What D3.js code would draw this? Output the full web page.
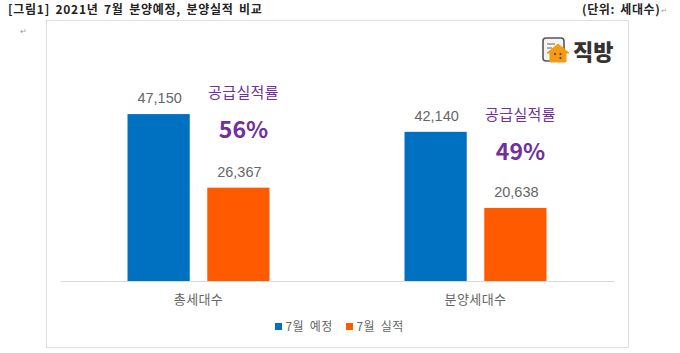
<!DOCTYPE html>
<html>
<head>
<meta charset="utf-8">
<script src="https://cdn.jsdelivr.net/npm/d3@7"></script>
<style>
html, body { margin: 0; padding: 0; background: #fff; }
svg { display: block; font-family: "Noto Sans CJK KR", "Noto Sans", sans-serif; }
</style>
</head>
<body>
<div id="chart"></div>
<script>
const categories = ["총세대수", "분양세대수"];
const seriesNames = ["7월 예정", "7월 실적"];
const planned = [47150, 42140];
const actual = [26367, 20638];
const rates = ["56%", "49%"];
const seriesColors = ["#0070c0", "#ff5a00"];

const width = 680;
const height = 353;
const axisY = 281;

const svg = d3.select("#chart").append("svg")
    .attr("width", width)
    .attr("height", height);

// document heading above the chart
svg.append("text")
    .attr("x", 8).attr("y", 14)
    .attr("font-size", 12).attr("font-weight", 700).attr("fill", "#222")
    .style("letter-spacing", "0.75px").style("word-spacing", "2px")
    .text("[그림1] 2021년 7월 분양예정, 분양실적 비교");

svg.append("text")
    .attr("x", 582).attr("y", 14)
    .attr("font-size", 12).attr("font-weight", 700).attr("fill", "#222")
    .style("letter-spacing", "0.6px").style("word-spacing", "2px")
    .text("(단위: 세대수)");

// paragraph marks from the word processor
svg.append("text").attr("x", 661).attr("y", 13).attr("font-size", 7).attr("fill", "#999").text("↵");
svg.append("text").attr("x", 20).attr("y", 34).attr("font-size", 8).attr("fill", "#999").text("↵");

// chart frame
svg.append("rect")
    .attr("x", 46.5).attr("y", 20.5)
    .attr("width", 582).attr("height", 327)
    .attr("fill", "#fff")
    .attr("stroke", "#dedede");

const x0 = d3.scaleBand()
    .domain(categories)
    .range([60, 614]);

const x1 = d3.scaleBand()
    .domain(seriesNames)
    .range([x0.bandwidth() / 2 - 71, x0.bandwidth() / 2 + 71])
    .paddingInner(0.22);

const y = d3.scaleLinear()
    .domain([0, 50000])
    .range([axisY, 104]);

const values = [planned, actual];

seriesNames.forEach((name, s) => {
    svg.append("g")
        .selectAll("rect")
        .data(categories)
        .enter()
        .append("rect")
        .attr("x", d => x0(d) + x1(name))
        .attr("y", (d, i) => y(values[s][i]))
        .attr("width", x1.bandwidth())
        .attr("height", (d, i) => axisY - y(values[s][i]))
        .attr("fill", seriesColors[s]);

    svg.append("g")
        .selectAll("text")
        .data(categories)
        .enter()
        .append("text")
        .attr("x", d => x0(d) + x1(name) + x1.bandwidth() / 2 + 1)
        .attr("y", (d, i) => y(values[s][i]) - 11)
        .attr("text-anchor", "middle")
        .attr("font-size", 14.5)
        .style("font-family", "'Liberation Sans', sans-serif")
        .attr("fill", "#666")
        .text((d, i) => d3.format(",")(values[s][i]));
});

// category axis
const axis = svg.append("g")
    .attr("transform", `translate(0, ${axisY})`)
    .call(d3.axisBottom(x0).tickSize(0).tickPadding(14));
axis.select(".domain").attr("stroke", "#d9d9d9");
axis.selectAll("text")
    .attr("font-size", 13)
    .style("font-family", "'Noto Sans CJK KR', sans-serif")
    .style("letter-spacing", "0.4px")
    .attr("fill", "#666");

// supply rate notes beside the actual bars
const rateY = [98, 120];
svg.append("g")
    .selectAll("text")
    .data(categories)
    .enter()
    .append("text")
    .attr("x", d => x0(d) + x0.bandwidth() / 2 + 45)
    .attr("y", (d, i) => rateY[i])
    .attr("text-anchor", "middle")
    .attr("font-size", 15)
    .style("letter-spacing", "0.4px")
    .attr("fill", "#7030a0")
    .text("공급실적률");

svg.append("g")
    .selectAll("text")
    .data(rates)
    .enter()
    .append("text")
    .attr("x", (d, i) => x0(categories[i]) + x0.bandwidth() / 2 + 45)
    .attr("y", (d, i) => rateY[i] + 40)
    .attr("text-anchor", "middle")
    .attr("font-size", 23)
    .attr("font-weight", 700)
    .attr("fill", "#7030a0")
    .text(d => d);

// legend
const legendX = [275, 346];
const legend = svg.append("g");
seriesNames.forEach((name, s) => {
    legend.append("rect")
        .attr("x", legendX[s]).attr("y", 323)
        .attr("width", 7).attr("height", 7)
        .attr("fill", seriesColors[s]);
    legend.append("text")
        .attr("x", legendX[s] + 10.5).attr("y", 331)
        .attr("font-size", 12)
        .style("word-spacing", "3px")
        .style("letter-spacing", "0.3px")
        .attr("fill", "#666")
        .text(name);
});

// logo
const logo = svg.append("g").attr("transform", "translate(542, 37)");
logo.append("rect")
    .attr("x", 1).attr("y", 1).attr("width", 21).attr("height", 23).attr("rx", 3)
    .attr("fill", "#f4f4f4").attr("stroke", "#555").attr("stroke-width", 1.6);
logo.append("path")
    .attr("d", "M5 7h8M5 11h5")
    .attr("stroke", "#666").attr("stroke-width", 1.2);
logo.append("path")
    .attr("d", "M5 16 L16 7 L27 16 L24 16 L24 25 L8 25 L8 16 Z")
    .attr("fill", "#f39c12").attr("stroke", "#f39c12").attr("stroke-linejoin", "round");
logo.append("circle").attr("cx", 13).attr("cy", 17).attr("r", 1.1).attr("fill", "#444");
logo.append("circle").attr("cx", 18.5).attr("cy", 17).attr("r", 1.1).attr("fill", "#444");
logo.append("circle").attr("cx", 18.5).attr("cy", 21).attr("r", 1.1).attr("fill", "#444");
svg.append("text")
    .attr("x", 573).attr("y", 60)
    .attr("font-size", 22).attr("font-weight", 900).attr("fill", "#333")
    .text("직방");
</script>
</body>
</html>
